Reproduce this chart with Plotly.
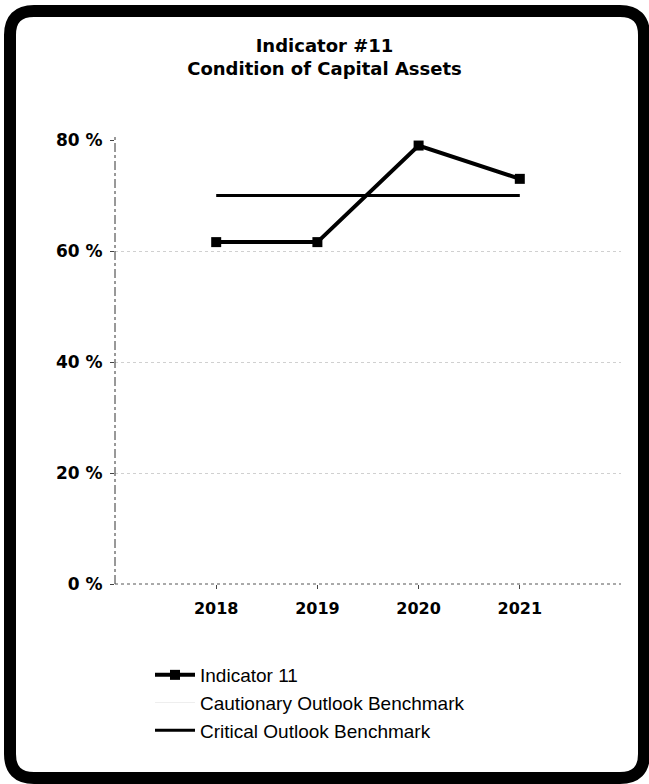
import plotly.graph_objects as go

# ---- data ----
years = ["2018", "2019", "2020", "2021"]
indicator_11 = [61.6, 61.6, 79.0, 73.0]
cautionary_benchmark = [None, None, None, None]
critical_benchmark = [70, 70, 70, 70]
y_ticks = [0, 20, 40, 60, 80]
y_tick_labels = [f"{v} %" for v in y_ticks]

W, H = 649, 784
L, R, T, B = 115, 28, 140, 200
PW, PH = W - L - R, H - T - B


def px(x):
    return (x - L) / PW


def py(y):
    return 1 - (y - T) / PH


fig = go.Figure()
fig.add_trace(go.Scatter(
    x=years, y=indicator_11, name="Indicator 11", mode="lines+markers",
    line=dict(color="black", width=4),
    marker=dict(symbol="square", size=10, color="black"),
))
fig.add_trace(go.Scatter(
    x=years, y=cautionary_benchmark, name="Cautionary Outlook Benchmark",
    mode="lines", line=dict(color="#eeeeee", width=1),
))
fig.add_trace(go.Scatter(
    x=years, y=critical_benchmark, name="Critical Outlook Benchmark",
    mode="lines", line=dict(color="black", width=3),
))

x_tick_font = dict(family="DejaVu Sans", size=16, color="black", weight="bold")
y_tick_font = dict(family="DejaVu Sans", size=17, color="black", weight="bold")

fig.update_layout(
    width=W, height=H,
    margin=dict(l=L, r=R, t=T, b=B),
    paper_bgcolor="white", plot_bgcolor="white",
    title=dict(
        text="Indicator #11<br>Condition of Capital Assets",
        font=dict(family="DejaVu Sans", size=18, color="black", weight="bold"),
        x=0.5, xref="container", xanchor="center",
        y=1 - 52 / H, yref="container", yanchor="top",
    ),
    xaxis=dict(
        type="category", categoryorder="array", categoryarray=years,
        range=[-1, 4], showgrid=False, zeroline=False, showline=False,
        ticks="outside", ticklen=4, tickcolor="#444", tickfont=x_tick_font,
        ticklabelstandoff=6,
    ),
    yaxis=dict(
        range=[0, 80], tickvals=y_ticks, ticktext=y_tick_labels,
        showgrid=True, gridcolor="#d0d0d0", griddash="dot", gridwidth=1,
        zeroline=False, showline=False,
        ticks="outside", ticklen=4, tickcolor="#444", tickfont=y_tick_font,
        ticklabelstandoff=4,
    ),
    showlegend=True,
    legend=dict(
        x=px(150), y=py(656), xanchor="left", yanchor="top",
        orientation="v", bgcolor="rgba(0,0,0,0)",
        font=dict(family="Liberation Sans", size=19, color="black"),
        itemwidth=40, tracegroupgap=0,
    ),
)

# dotted axis lines
fig.add_shape(type="line", xref="paper", yref="paper", x0=0, x1=0, y0=0, y1=py(134),
              line=dict(color="#333", width=1, dash="dashdot"))
fig.add_shape(type="line", xref="paper", yref="paper", x0=0, x1=1, y0=0, y1=0,
              line=dict(color="#555", width=1, dash="dot"))

# rounded black frame
x0, x1, y0, y1, r = 10, 644, 11, 778, 24
path = (
    f"M {px(x0 + r)},{py(y0)} L {px(x1 - r)},{py(y0)} "
    f"Q {px(x1)},{py(y0)} {px(x1)},{py(y0 + r)} "
    f"L {px(x1)},{py(y1 - r)} Q {px(x1)},{py(y1)} {px(x1 - r)},{py(y1)} "
    f"L {px(x0 + r)},{py(y1)} Q {px(x0)},{py(y1)} {px(x0)},{py(y1 - r)} "
    f"L {px(x0)},{py(y0 + r)} Q {px(x0)},{py(y0)} {px(x0 + r)},{py(y0)} Z"
)
fig.add_shape(type="path", xref="paper", yref="paper", path=path,
              line=dict(color="black", width=12), layer="above")

fig.write_html("out.html", config={"displayModeBar": False},
               post_script="document.body.style.margin='0';")
